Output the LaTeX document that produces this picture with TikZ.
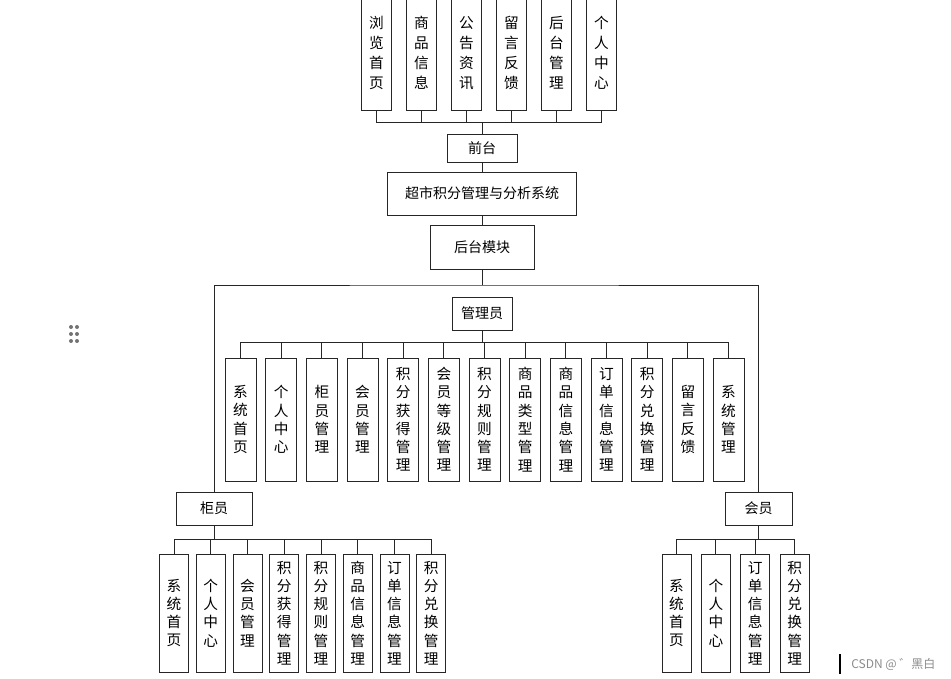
\documentclass[tikz,border=0pt]{standalone}
\usepackage{fontspec}
\setmainfont{Noto Sans CJK SC}
\begin{document}
\tikzset{
  box/.style={draw=black!85, line width=0.75pt, inner sep=0pt, align=center, font=\fontsize{10.5}{12}\selectfont},
  vtop/.style={box, minimum width=22.5pt, minimum height=85.5pt, font=\fontsize{11}{15}\selectfont},
  vmid/.style={box, minimum width=23.25pt, minimum height=92.25pt, font=\fontsize{11}{13.7}\selectfont},
  vbot/.style={box, minimum width=21.75pt, minimum height=88.5pt, font=\fontsize{11}{13.7}\selectfont},
  link/.style={draw=black!85, line width=0.75pt},
  wmark/.style={anchor=west, text=black!45, inner sep=0pt, font=\fontsize{9}{10}\selectfont}
}
\begin{tikzpicture}[x=0.75pt,y=-0.75pt]
\useasboundingbox (0,0) rectangle (951,679);
% top row
\foreach \t [count=\i from 0] in {浏\\览\\首\\页,商\\品\\信\\息,公\\告\\资\\讯,留\\言\\反\\馈,后\\台\\管\\理,个\\人\\中\\心}
  \node[vtop] (t\i) at ({376.5+45*\i},53) {\t};
\node[box, minimum width=52.5pt, minimum height=21pt] (qt) at (482,148) {前台};
\node[box, minimum width=141.75pt, minimum height=32.25pt] (sys) at (482,193.5) {超市积分管理与分析系统};
\node[box, minimum width=78pt, minimum height=33pt] (hm) at (482,247) {后台模块};
\node[box, minimum width=45pt, minimum height=24.75pt] (gly) at (482,313.5) {管理员};
\foreach \t [count=\i from 0] in {系\\统\\首\\页,个\\人\\中\\心,柜\\员\\管\\理,会\\员\\管\\理,积\\分\\获\\得\\管\\理,会\\员\\等\\级\\管\\理,积\\分\\规\\则\\管\\理,商\\品\\类\\型\\管\\理,商\\品\\信\\息\\管\\理,订\\单\\信\\息\\管\\理,积\\分\\兑\\换\\管\\理,留\\言\\反\\馈,系\\统\\管\\理}
  \node[vmid] (m\i) at ({240.5+40.67*\i},419.5) {\t};
\node[box, minimum width=57pt, minimum height=24.75pt] (gy) at (214,508.5) {柜员};
\foreach \t [count=\i from 0] in {系\\统\\首\\页,个\\人\\中\\心,会\\员\\管\\理,积\\分\\获\\得\\管\\理,积\\分\\规\\则\\管\\理,商\\品\\信\\息\\管\\理,订\\单\\信\\息\\管\\理,积\\分\\兑\\换\\管\\理}
  \node[vbot] (l\i) at ({174+36.75*\i},613) {\t};
\node[box, minimum width=50.25pt, minimum height=24.75pt] (hy) at (758.5,508.5) {会员};
\foreach \t [count=\i from 0] in {系\\统\\首\\页,个\\人\\中\\心,订\\单\\信\\息\\管\\理,积\\分\\兑\\换\\管\\理}
  \node[vbot] (r\i) at ({676.5+39.4*\i},613) {\t};
% connectors
\coordinate (b1) at (482,122);
\foreach \i in {0,...,5} \draw[link] (t\i.south) |- (b1);
\draw[link] (b1) -- (qt.north);
\draw[link] (qt.south) -- (sys.north);
\draw[link] (sys.south) -- (hm.north);
\coordinate (fr) at (482,285);
\draw[link] (hm.south) -- (fr);
\draw[link] (gy.north) |- (fr) -| (hy.north);
\coordinate (b2) at (482,342);
\draw[link] (gly.south) -- (b2);
\foreach \i in {0,...,12} \draw[link] (m\i.north) |- (b2);
\coordinate (b3) at (214,539);
\draw[link] (gy.south) -- (b3);
\foreach \i in {0,...,7} \draw[link] (l\i.north) |- (b3);
\coordinate (b4) at (758.5,539);
\draw[link] (hy.south) -- (b4);
\foreach \i in {0,...,3} \draw[link] (r\i.north) |- (b4);
% drag handle dots
\foreach \dx in {71,77} \foreach \dy in {327,334,341} \fill[black!55] (\dx,\dy) circle (1.5pt);
% watermark
\coordinate (wa) at (840,654);
\coordinate (wb) at (840,674);
\draw[line width=1.5pt] (wa) -- (wb);
\node[wmark] (wm) at (851,664) {CSDN @ ゛黑白};
\end{tikzpicture}
\end{document}
